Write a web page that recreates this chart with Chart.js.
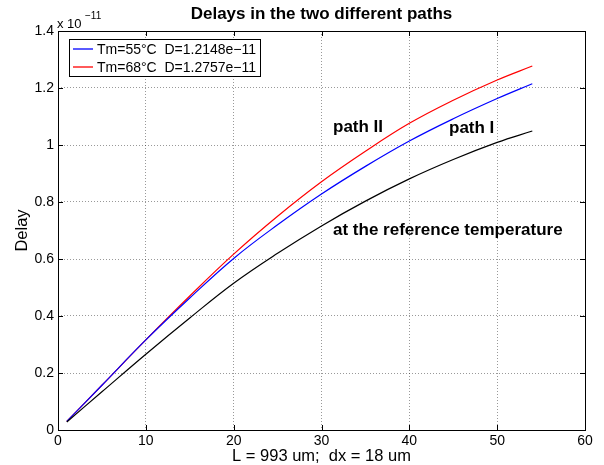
<!DOCTYPE html>
<html>
<head>
<meta charset="utf-8">
<script src="https://cdn.jsdelivr.net/npm/chart.js@4"></script>
<style>
  html, body { margin: 0; padding: 0; background: #fff; }
  #wrap { width: 604px; height: 465px; }
</style>
</head>
<body>
<div id="wrap"><canvas id="delayChart" width="604" height="465"></canvas></div>
<script>
// values, in units of 1e-11
const xs = [1, 5, 10, 15, 20, 25, 30, 35, 40, 45, 50, 54];
const refDelay = [0.028, 0.134, 0.266, 0.393, 0.515, 0.620, 0.716, 0.803, 0.881, 0.949, 1.009, 1.049];
const tm55Delay = [0.030, 0.157, 0.316, 0.463, 0.602, 0.720, 0.828, 0.925, 1.014, 1.092, 1.163, 1.215];
const tm68Delay = [0.030, 0.157, 0.316, 0.470, 0.617, 0.750, 0.871, 0.978, 1.076, 1.157, 1.228, 1.277];
const xTicks = [0, 10, 20, 30, 40, 50, 60];
const yTicks = [0, 0.2, 0.4, 0.6, 0.8, 1, 1.2, 1.4];
const legendLabels = ['Tm=55°C  D=1.2148e\u221211', 'Tm=68°C  D=1.2757e\u221211'];
const colors = ['#000000', '#0000ff', '#ff0000'];

const FONT = '"Liberation Sans", Arial, Helvetica, sans-serif';
const toPts = (arr) => arr.map((v, i) => ({ x: xs[i], y: v }));

// frame, inward ticks, texts and legend (matlab look)
const decor = {
    id: 'decor',
    afterDatasetsDraw(chart) {
        const { ctx, chartArea: a, scales: { x, y } } = chart;
        ctx.save();
        ctx.strokeStyle = '#000';
        ctx.lineWidth = 1;
        ctx.beginPath();
        xTicks.forEach(t => {
            const px = Math.round(x.getPixelForValue(t)) + 0.5;
            ctx.moveTo(px, a.bottom); ctx.lineTo(px, a.bottom - 5);
            ctx.moveTo(px, a.top); ctx.lineTo(px, a.top + 5);
        });
        yTicks.forEach(t => {
            const py = Math.round(y.getPixelForValue(t)) + 0.5;
            ctx.moveTo(a.left, py); ctx.lineTo(a.left + 5, py);
            ctx.moveTo(a.right, py); ctx.lineTo(a.right - 5, py);
        });
        ctx.stroke();
        ctx.strokeRect(Math.round(a.left) + 0.5, Math.round(a.top) + 0.5,
            Math.round(a.right - a.left), Math.round(a.bottom - a.top));

        ctx.fillStyle = '#000';
        ctx.textBaseline = 'middle';
        // title
        ctx.font = 'bold 17px ' + FONT;
        ctx.textAlign = 'center';
        ctx.fillText('Delays in the two different paths', (a.left + a.right) / 2, 14);
        // exponent
        ctx.font = '13px ' + FONT;
        ctx.textAlign = 'left';
        ctx.fillText('x 10', 57, 24);
        ctx.font = '10px ' + FONT;
        ctx.fillText('\u221211', 85, 16);
        // axis titles
        ctx.font = '16.5px ' + FONT;
        ctx.textAlign = 'center';
        ctx.fillText('L = 993 um;  dx = 18 um', (a.left + a.right) / 2, 456);
        ctx.save();
        ctx.translate(22, (a.top + a.bottom) / 2);
        ctx.rotate(-Math.PI / 2);
        ctx.fillText('Delay', 0, 0);
        ctx.restore();
        // annotations
        ctx.font = 'bold 17px ' + FONT;
        ctx.textAlign = 'left';
        ctx.fillText('path II', 333, 127);
        ctx.fillText('path I', 449, 128);
        ctx.fillText('at the reference temperature', 333, 230);
        // legend
        ctx.fillStyle = '#fff';
        ctx.fillRect(69, 39, 191, 37);
        ctx.strokeStyle = '#000';
        ctx.strokeRect(69.5, 39.5, 191, 37);
        ctx.font = '14px ' + FONT;
        legendLabels.forEach((lab, i) => {
            const ly = 49 + i * 18;
            ctx.strokeStyle = colors[i + 1];
            ctx.lineWidth = 1.3;
            ctx.beginPath(); ctx.moveTo(73, ly); ctx.lineTo(93, ly); ctx.stroke();
            ctx.fillStyle = '#000';
            ctx.fillText(lab, 97, ly + 1);
        });
        ctx.restore();
    }
};

new Chart(document.getElementById('delayChart').getContext('2d'), {
    type: 'line',
    data: {
        datasets: [
            { label: 'reference', data: toPts(refDelay), borderColor: colors[0] },
            { label: legendLabels[0], data: toPts(tm55Delay), borderColor: colors[1] },
            { label: legendLabels[1], data: toPts(tm68Delay), borderColor: colors[2] }
        ]
    },
    options: {
        responsive: false,
        animation: false,
        layout: { padding: { top: 31, right: 19, bottom: 0, left: 0 } },
        elements: {
            point: { radius: 0 },
            line: { borderWidth: 1.2, tension: 0.4, fill: false }
        },
        plugins: { legend: { display: false }, tooltip: { enabled: false } },
        scales: {
            x: {
                type: 'linear', min: 0, max: 60,
                afterBuildTicks: s => { s.ticks = xTicks.map(v => ({ value: v })); },
                afterFit: s => { s.height = 35; },
                grid: { color: 'rgba(0,0,0,0.4)', drawTicks: false },
                border: { display: false, dash: [1, 2] },
                ticks: { color: '#000', font: { family: FONT, size: 14 }, padding: 3, maxRotation: 0 }
            },
            y: {
                min: 0, max: 1.4,
                afterBuildTicks: s => { s.ticks = yTicks.map(v => ({ value: v })); },
                afterFit: s => { s.width = 58; },
                grid: { color: 'rgba(0,0,0,0.4)', drawTicks: false },
                border: { display: false, dash: [1, 2] },
                ticks: { color: '#000', font: { family: FONT, size: 14 }, padding: 4,
                    callback: v => String(+v.toFixed(1)) }
            }
        }
    },
    plugins: [decor]
});
</script>
</body>
</html>
